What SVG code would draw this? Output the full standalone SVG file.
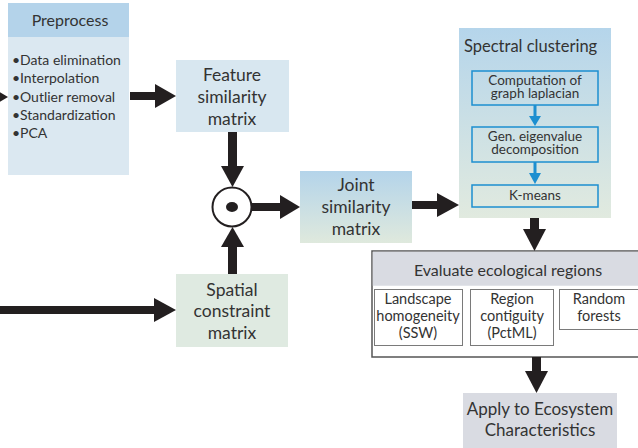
<svg xmlns="http://www.w3.org/2000/svg" width="638" height="448" viewBox="0 0 638 448">
  <defs>
    <linearGradient id="gradJoint" x1="0" y1="0" x2="0" y2="1">
      <stop offset="0" stop-color="#b4d4ea"/>
      <stop offset="1" stop-color="#dfe9dd"/>
    </linearGradient>
    <linearGradient id="gradSpectral" x1="0" y1="0" x2="0" y2="1">
      <stop offset="0" stop-color="#b5d5eb"/>
      <stop offset="1" stop-color="#e1eadf"/>
    </linearGradient>
  </defs>
  <style>
    text { font-family: Lato, "Liberation Sans", sans-serif; fill: #333333; }
    .title { font-size: 16px; text-anchor: middle; }
    .mat { font-size: 17.5px; text-anchor: middle; }
    .step { font-size: 13.5px; text-anchor: middle; }
    .crit { font-size: 14.5px; text-anchor: middle; }
    .bul { font-size: 14px; }
    .arrow { fill: #231f20; }
    .inner { fill: none; stroke: #1d8fd0; stroke-width: 1.5; }
    .blue { fill: #1d8fd0; }
    .sub { fill: #ffffff; stroke: #7a7a7a; stroke-width: 1; }
  </style>

  <!-- Preprocess -->
  <g id="preprocess">
    <rect x="8" y="3" width="121" height="172" fill="#dbe8f1"/>
    <rect x="8" y="3" width="121" height="34" fill="#b4d3ea"/>
    <text class="title" x="70" y="26">Preprocess</text>
    <text class="bul" x="12" y="65">•</text>
    <text class="bul" x="20" y="65">Data elimination</text>
    <text class="bul" x="12" y="83">•</text>
    <text class="bul" x="20" y="83">Interpolation</text>
    <text class="bul" x="12" y="102">•</text>
    <text class="bul" x="20" y="102">Outlier removal</text>
    <text class="bul" x="12" y="120">•</text>
    <text class="bul" x="20" y="120">Standardization</text>
    <text class="bul" x="12" y="138">•</text>
    <text class="bul" x="20" y="138">PCA</text>
  </g>

  <!-- Feature similarity matrix -->
  <g id="feature">
    <rect x="176" y="60" width="113" height="72" fill="#d8e7f0"/>
    <text class="mat" x="232" y="81">Feature</text>
    <text class="mat" x="232" y="103">similarity</text>
    <text class="mat" x="232" y="125">matrix</text>
  </g>

  <!-- Element-wise product operator -->
  <g id="product">
    <circle cx="232" cy="207" r="19.5" fill="#ffffff" stroke="#231f20" stroke-width="2"/>
    <ellipse cx="232" cy="207" rx="6" ry="5" fill="#231f20"/>
  </g>

  <!-- Spatial constraint matrix -->
  <g id="spatial">
    <rect x="176" y="274" width="112" height="73" fill="#dfeae1"/>
    <text class="mat" x="232" y="296">Spatial</text>
    <text class="mat" x="232" y="317">constraint</text>
    <text class="mat" x="232" y="339">matrix</text>
  </g>

  <!-- Joint similarity matrix -->
  <g id="joint">
    <rect x="300" y="171" width="112" height="72" fill="url(#gradJoint)"/>
    <text class="mat" x="356" y="191">Joint</text>
    <text class="mat" x="356" y="213">similarity</text>
    <text class="mat" x="356" y="235">matrix</text>
  </g>

  <!-- Spectral clustering -->
  <g id="spectral">
    <rect x="459" y="28" width="152" height="190" fill="url(#gradSpectral)"/>
    <text x="464" y="52" style="font-size:16.5px">Spectral clustering</text>
    <rect class="inner" x="472" y="71" width="126" height="34"/>
    <text class="step" x="535" y="85">Computation of</text>
    <text class="step" x="535" y="98">graph laplacian</text>
    <rect class="inner" x="472" y="127" width="126" height="35"/>
    <text class="step" x="535" y="141">Gen. eigenvalue</text>
    <text class="step" x="535" y="154">decomposition</text>
    <rect class="inner" x="472" y="185" width="126" height="22"/>
    <text class="step" x="535" y="200">K-means</text>
    <!-- internal step arrows -->
    <rect class="blue" x="533.5" y="105" width="3" height="12"/>
    <polygon class="blue" points="529,116 541,116 535,126"/>
    <rect class="blue" x="533.5" y="162" width="3" height="12"/>
    <polygon class="blue" points="529,173 541,173 535,184"/>
  </g>

  <!-- Evaluate ecological regions -->
  <g id="evaluate">
    <rect x="372" y="251" width="272" height="106" fill="#ffffff" stroke="#555555" stroke-width="1.5"/>
    <rect x="372.75" y="251.75" width="270" height="34" fill="#d9dbe2"/>
    <text class="title" x="508" y="276">Evaluate ecological regions</text>
    <rect class="sub" x="374.5" y="289.5" width="88" height="56"/>
    <text class="crit" x="418" y="304">Landscape</text>
    <text class="crit" x="418" y="321">homogeneity</text>
    <text class="crit" x="418" y="338">(SSW)</text>
    <rect class="sub" x="470.5" y="289.5" width="83" height="56"/>
    <text class="crit" x="512" y="304">Region</text>
    <text class="crit" x="512" y="321">contiguity</text>
    <text class="crit" x="512" y="338">(PctML)</text>
    <rect class="sub" x="559.5" y="289.5" width="90" height="40"/>
    <text class="crit" x="599" y="304">Random</text>
    <text class="crit" x="599" y="321">forests</text>
  </g>

  <!-- Apply to Ecosystem Characteristics -->
  <g id="apply">
    <rect x="463" y="393" width="154" height="60" fill="#d9dbe2"/>
    <text class="title" x="540" y="415" style="font-size:17px">Apply to Ecosystem</text>
    <text class="title" x="540" y="436" style="font-size:17px">Characteristics</text>
  </g>

  <!-- Connectors -->
  <g id="connectors" class="arrow">
    <!-- input into Preprocess -->
    <polygon points="-12,85 8,97 -12,109"/>
    <!-- Preprocess to Feature similarity -->
    <rect x="130" y="92" width="27" height="8"/>
    <polygon points="155,84 176,96 155,108"/>
    <!-- input into Spatial constraint -->
    <rect x="0" y="306" width="156" height="8"/>
    <polygon points="154,298 176,310 154,322"/>
    <!-- Feature similarity down to product -->
    <rect x="228" y="132" width="9" height="36"/>
    <polygon points="221,166 244,166 232.5,187"/>
    <!-- Spatial constraint up to product -->
    <rect x="228" y="245" width="9" height="29"/>
    <polygon points="221,247 244,247 232.5,227"/>
    <!-- product to Joint similarity -->
    <rect x="251" y="203" width="31" height="8"/>
    <polygon points="280,195 300,207 280,219"/>
    <!-- Joint similarity to Spectral clustering -->
    <rect x="412" y="201" width="27" height="8"/>
    <polygon points="437,193 459,205 437,217"/>
    <!-- Spectral clustering to Evaluate -->
    <rect x="530" y="218" width="9" height="13"/>
    <polygon points="523,229 546,229 534.5,251"/>
    <!-- Evaluate to Apply -->
    <rect x="532" y="357" width="9" height="15"/>
    <polygon points="525,371 548,371 536.5,393"/>
  </g>
</svg>
